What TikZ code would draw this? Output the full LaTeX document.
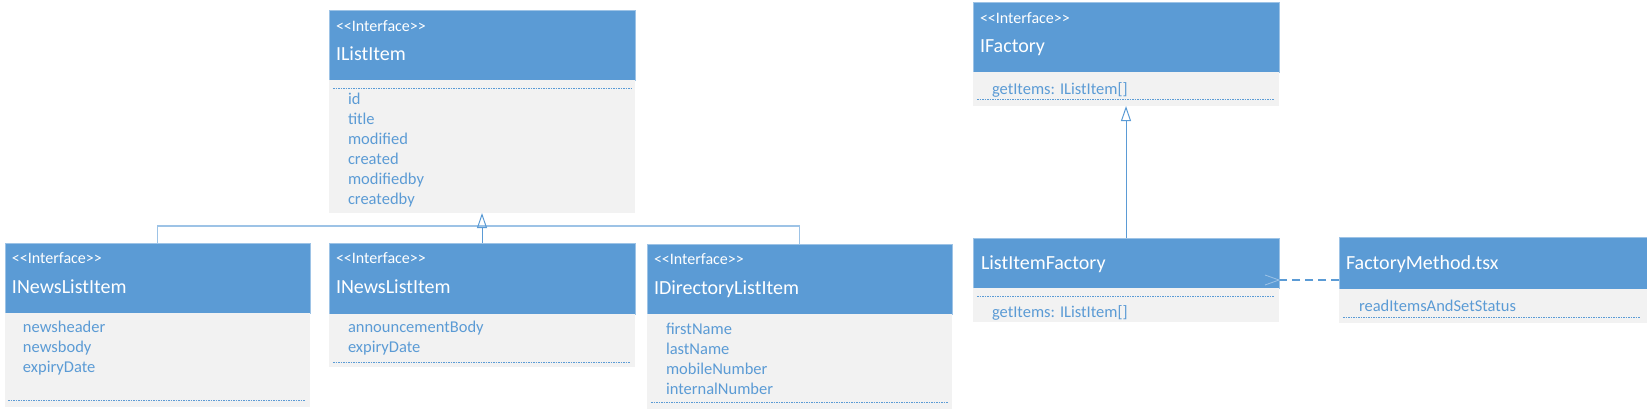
\documentclass[tikz,border=0pt]{standalone}
\usepackage{fontspec}
\setmainfont{Carlito}
\usetikzlibrary{arrows.meta, positioning}

\definecolor{umlblue}{HTML}{5B9BD5}
\definecolor{umlgray}{HTML}{F2F2F2}
\definecolor{umllight}{HTML}{9DC3E6}

\begin{document}
\begin{tikzpicture}[x=1pt,y=-1pt,outer sep=0pt,inner sep=0pt]
\tikzstyle{head} = [rectangle, fill=umlblue, draw=umllight, line width=0.6pt, anchor=north west]
\tikzstyle{body} = [rectangle, fill=umlgray]
\tikzstyle{stereo} = [text=white, font=\fontsize{16}{18}\selectfont, anchor=base west]
\tikzstyle{title} = [text=white, font=\fontsize{20}{24}\selectfont, anchor=base west]
\tikzstyle{items} = [text=umlblue, font=\fontsize{16.5}{20}\selectfont, align=left, anchor=north west, execute at begin node=\strut]
\tikzstyle{sep} = [umlblue, line width=0.8pt, dash pattern=on 1.5pt off 1pt]
\tikzstyle{line} = [umllight, line width=1.5pt]
\tikzstyle{inherit} = [umlblue, line width=1pt, -{Triangle[open, length=15pt, width=10pt]}]
\tikzstyle{depend} = [umlblue, line width=1.2pt, dash pattern=on 8pt off 5pt]
\tikzstyle{barb} = [umllight, line width=0.8pt]

\useasboundingbox (0,0) rectangle (1647,410);

% IListItem
\node[head, minimum width=306pt, minimum height=70pt] (ilist) at (329,10) {};
\node[body, minimum width=306pt, minimum height=133pt, below=0pt of ilist] (ilist-body) {};
\node[stereo] (ilist-st) at ([shift={(7,21)}]ilist.north west) {<{}<Interface>{}>};
\node[title] (ilist-name) at ([shift={(7,50)}]ilist.north west) {IListItem};
\draw[sep] ([shift={(4,8)}]ilist-body.north west) -- ([shift={(-4,8)}]ilist-body.north east);
\node[items] (ilist-items) at ([shift={(19,13)}]ilist-body.north west) {id\\title\\modified\\created\\modifiedby\\createdby};

% INewsListItem (left)
\node[head, minimum width=305pt, minimum height=70pt] (inews1) at (5,243) {};
\node[body, minimum width=305pt, minimum height=94pt, below=0pt of inews1] (inews1-body) {};
\node[stereo] (inews1-st) at ([shift={(7,20)}]inews1.north west) {<{}<Interface>{}>};
\node[title] (inews1-name) at ([shift={(7,50)}]inews1.north west) {INewsListItem};
\node[items] (inews1-items) at ([shift={(18,8)}]inews1-body.north west) {newsheader\\newsbody\\expiryDate};
\draw[sep] ([shift={(3,-7)}]inews1-body.south west) -- ([shift={(-5,-7)}]inews1-body.south east);

% INewsListItem (middle)
\node[head, minimum width=306pt, minimum height=71pt] (inews2) at (329,243) {};
\node[body, minimum width=306pt, minimum height=53pt, below=0pt of inews2] (inews2-body) {};
\node[stereo] (inews2-st) at ([shift={(7,20)}]inews2.north west) {<{}<Interface>{}>};
\node[title] (inews2-name) at ([shift={(7,50)}]inews2.north west) {INewsListItem};
\node[items] (inews2-items) at ([shift={(19,7)}]inews2-body.north west) {announcementBody\\expiryDate};
\draw[sep] ([shift={(4,-5)}]inews2-body.south west) -- ([shift={(-5,-5)}]inews2-body.south east);

% IDirectoryListItem
\node[head, minimum width=305pt, minimum height=70pt] (idir) at (647,244) {};
\node[body, minimum width=305pt, minimum height=95pt, below=0pt of idir] (idir-body) {};
\node[stereo] (idir-st) at ([shift={(7,20)}]idir.north west) {<{}<Interface>{}>};
\node[title] (idir-name) at ([shift={(7,50)}]idir.north west) {IDirectoryListItem};
\node[items] (idir-items) at ([shift={(19,9)}]idir-body.north west) {firstName\\lastName\\mobileNumber\\internalNumber};
\draw[sep] ([shift={(4,-7)}]idir-body.south west) -- ([shift={(-4,-7)}]idir-body.south east);

% IFactory
\node[head, minimum width=306pt, minimum height=70pt] (ifactory) at (973,2) {};
\node[body, minimum width=306pt, minimum height=34pt, below=0pt of ifactory] (ifactory-body) {};
\node[stereo] (ifactory-st) at ([shift={(7,21)}]ifactory.north west) {<{}<Interface>{}>};
\node[title] (ifactory-name) at ([shift={(7,50)}]ifactory.north west) {IFactory};
\node[items] (ifactory-items) at ([shift={(19,8)}]ifactory-body.north west) {getItems: IListItem[]};
\draw[sep] ([shift={(4,-7)}]ifactory-body.south west) -- ([shift={(-5,-7)}]ifactory-body.south east);

% ListItemFactory
\node[head, minimum width=306pt, minimum height=50pt] (lif) at (973,238) {};
\node[body, minimum width=306pt, minimum height=34pt, below=0pt of lif] (lif-body) {};
\node[title] (lif-name) at ([shift={(8,31)}]lif.north west) {ListItemFactory};
\draw[sep] ([shift={(4,8)}]lif-body.north west) -- ([shift={(-5,8)}]lif-body.north east);
\node[items] (lif-items) at ([shift={(19,15)}]lif-body.north west) {getItems: IListItem[]};

% FactoryMethod.tsx
\node[head, minimum width=308pt, minimum height=52pt] (fm) at (1339,237) {};
\node[body, minimum width=308pt, minimum height=34pt, below=0pt of fm] (fm-body) {};
\node[title] (fm-name) at ([shift={(7,32)}]fm.north west) {FactoryMethod.tsx};
\node[items] (fm-items) at ([shift={(20,8)}]fm-body.north west) {readItemsAndSetStatus};
\draw[sep] ([shift={(4,-6)}]fm-body.south west) -- ([shift={(-7,-6)}]fm-body.south east);

% connectors
\coordinate (join) at ([yshift=-13pt]ilist-body.south);
\draw[line] (inews1.north) |- (join);
\draw[line] (idir.north) |- (join);
\draw[inherit] (inews2.north) -- (ilist-body.south);
\draw[inherit] (lif.north) -- (ifactory-body.south);
\coordinate (dep) at ([yshift=-17pt]lif.east);
\draw[depend] ([yshift=-17pt]fm.west) -- (dep);
\draw[barb] ([shift={(-14,-5)}]dep) -- (dep) -- ([shift={(-14,5)}]dep);

\end{tikzpicture}
\end{document}
